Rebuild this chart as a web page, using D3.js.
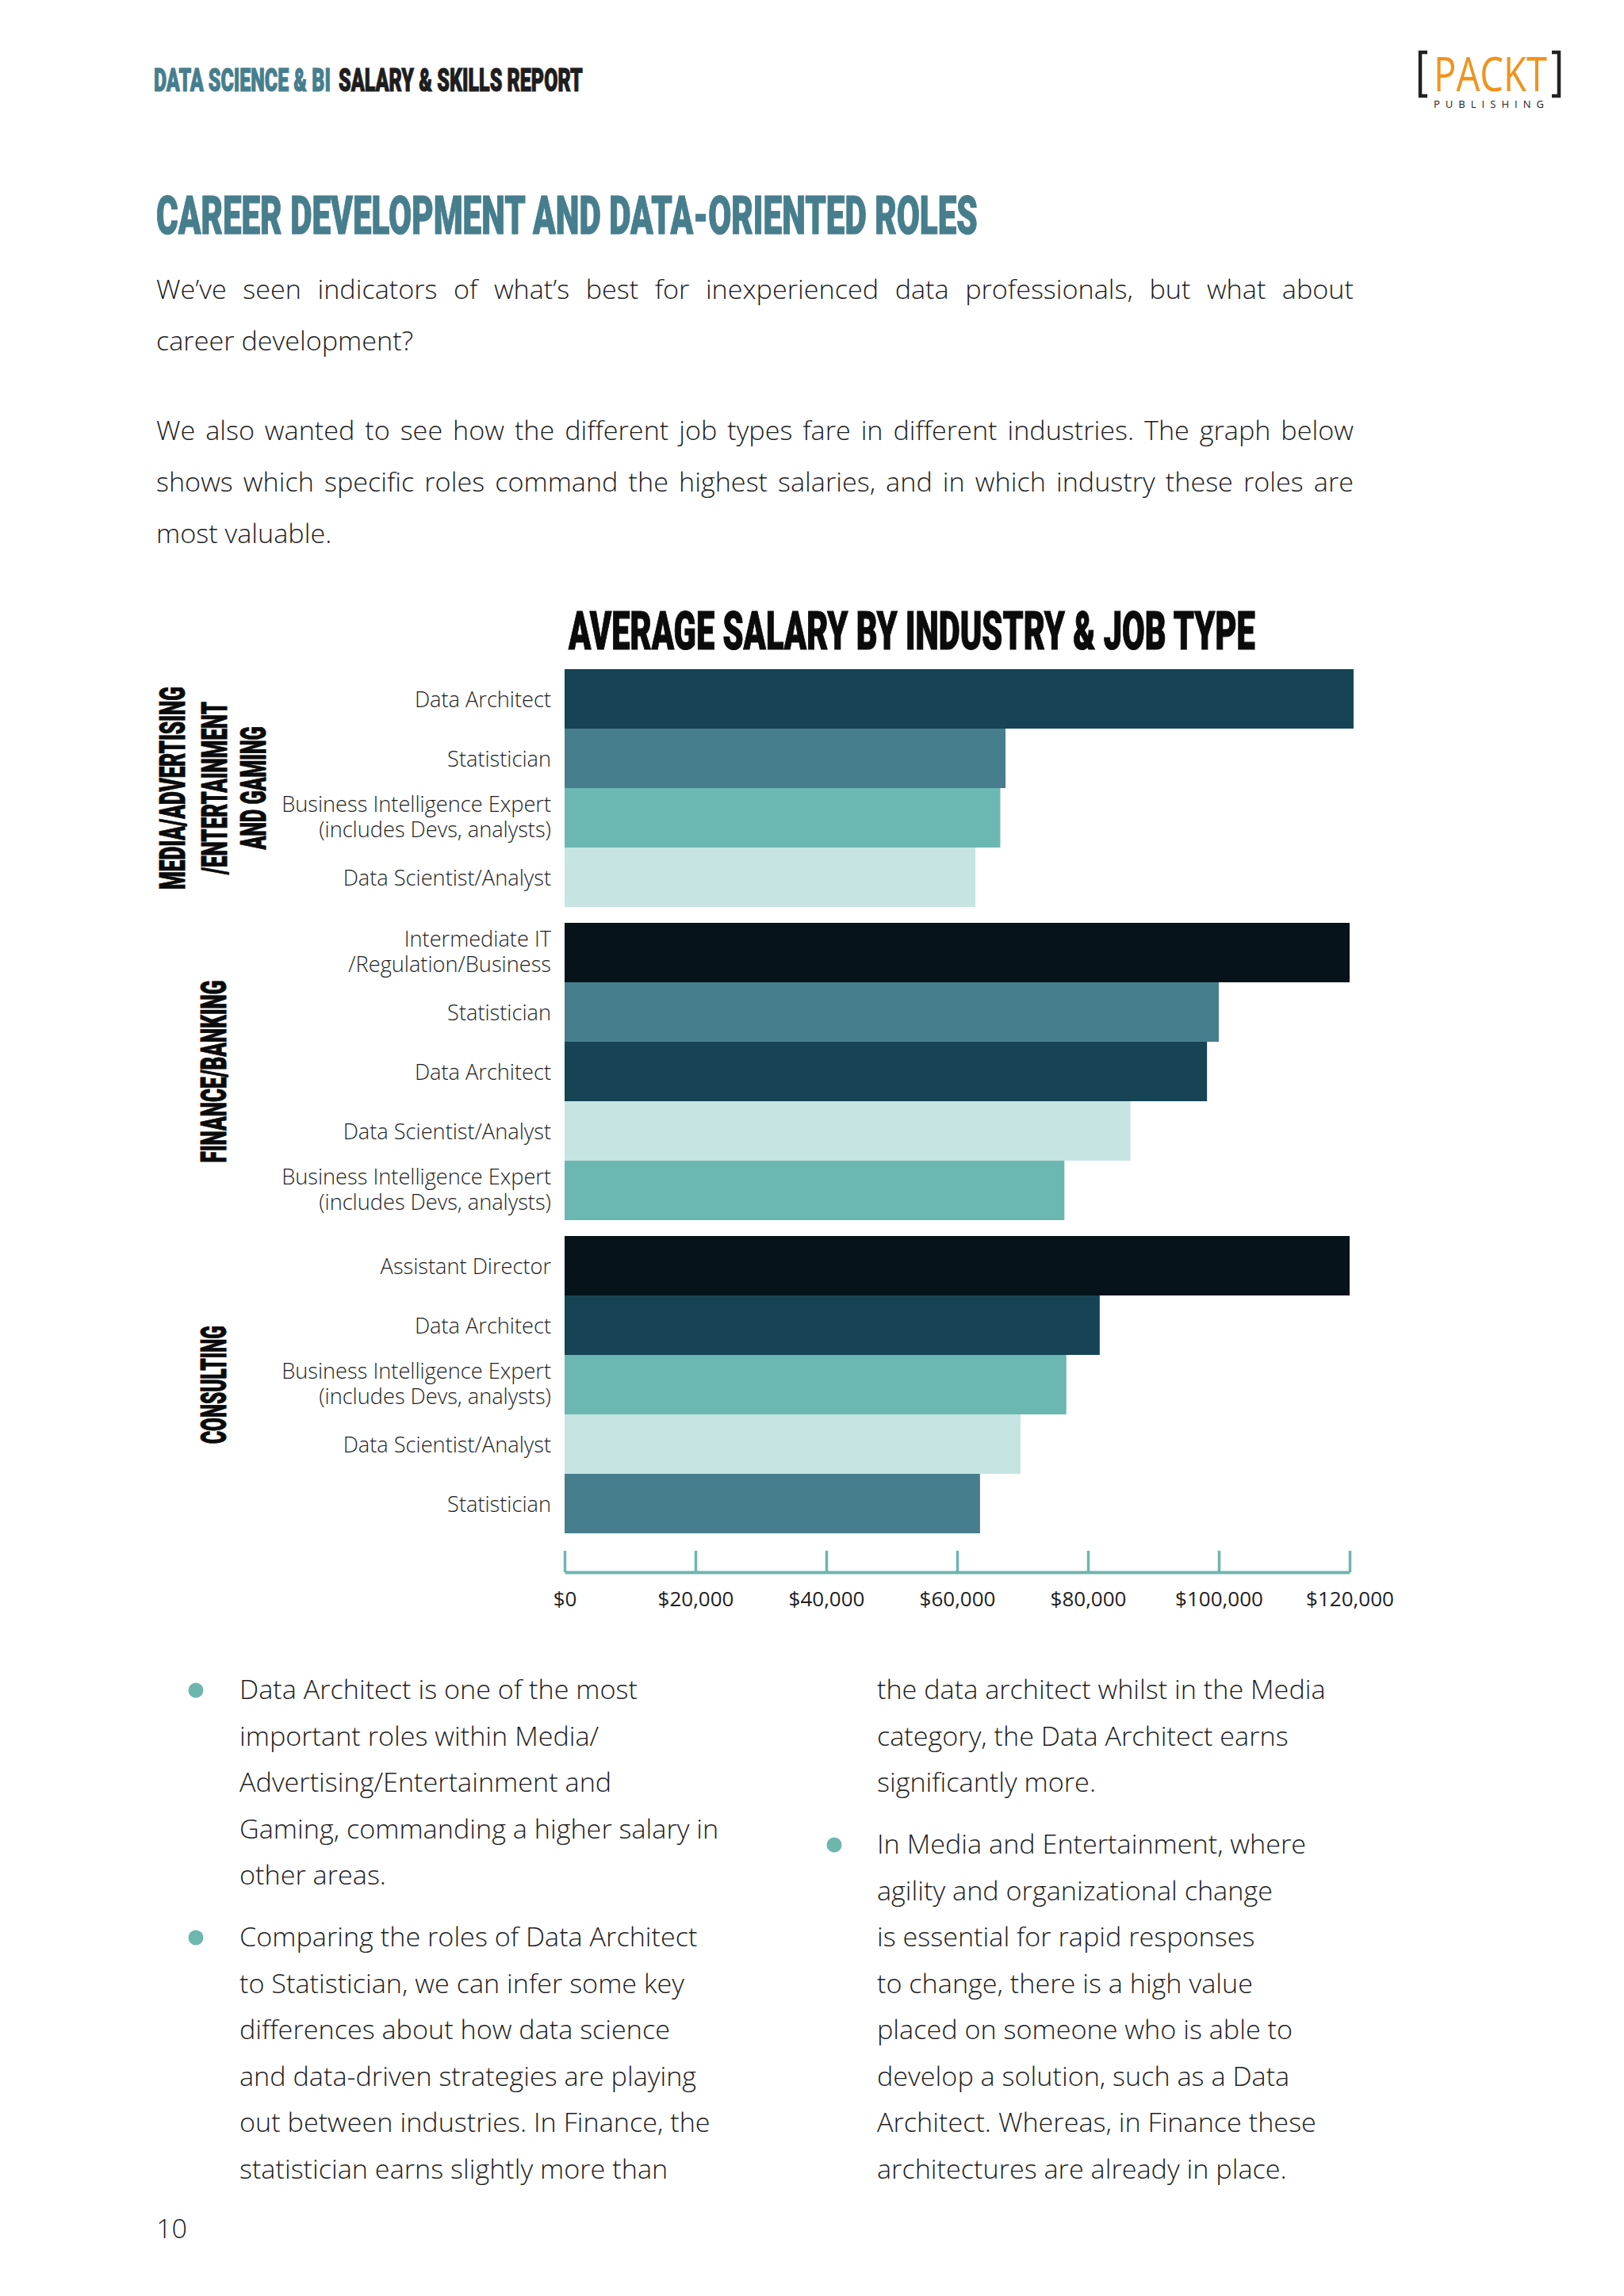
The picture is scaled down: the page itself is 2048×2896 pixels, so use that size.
<!DOCTYPE html>
<html><head><meta charset="utf-8">
<script src="https://cdn.jsdelivr.net/npm/d3@7"></script>
<style>
html,body{margin:0;padding:0;background:#fff;}
svg{display:block;}
</style></head>
<body>
<svg id="page" width="2048" height="2896"></svg>
<script>
// ---------------- DATA ----------------
const industries = ["MEDIA/ADVERTISING\n/ENTERTAINMENT\nAND GAMING", "FINANCE/BANKING", "CONSULTING"];
const mediaRoles = ["Data Architect", "Statistician", "Business Intelligence Expert\n(includes Devs, analysts)", "Data Scientist/Analyst"];
const mediaSalaries = [120600, 67400, 66600, 62800];
const financeRoles = ["Intermediate IT\n/Regulation/Business", "Statistician", "Data Architect", "Data Scientist/Analyst", "Business Intelligence Expert\n(includes Devs, analysts)"];
const financeSalaries = [120000, 100000, 98200, 86500, 76400];
const consultingRoles = ["Assistant Director", "Data Architect", "Business Intelligence Expert\n(includes Devs, analysts)", "Data Scientist/Analyst", "Statistician"];
const consultingSalaries = [120000, 81800, 76700, 69700, 63500];
const tickValues = [0, 20000, 40000, 60000, 80000, 100000, 120000];
const roleTypes = ["Data Architect", "Statistician", "Business Intelligence Expert\n(includes Devs, analysts)", "Data Scientist/Analyst", "Intermediate IT\n/Regulation/Business", "Assistant Director"];

// ---------------- TEXT ----------------
const headerParts = ["DATA SCIENCE & BI", "SALARY & SKILLS REPORT"];
const pageTitle = "CAREER DEVELOPMENT AND DATA-ORIENTED ROLES";
const chartTitle = "AVERAGE SALARY BY INDUSTRY & JOB TYPE";
const introParagraphs = [
  ["We\u2019ve seen indicators of what\u2019s best for inexperienced data professionals, but what about", "career development?"],
  ["We also wanted to see how the different job types fare in different industries. The graph below", "shows which specific roles command the highest salaries, and in which industry these roles are", "most valuable."]
];
const leftColumn = [
  {bullet: true, lines: ["Data Architect is one of the most", "important roles within Media/", "Advertising/Entertainment and", "Gaming, commanding a higher salary in", "other areas."]},
  {bullet: true, lines: ["Comparing the roles of Data Architect", "to Statistician, we can infer some key", "differences about how data science", "and data-driven strategies are playing", "out between industries. In Finance, the", "statistician earns slightly more than"]}
];
const rightColumn = [
  {bullet: false, lines: ["the data architect whilst in the Media", "category, the Data Architect earns", "significantly more."]},
  {bullet: true, lines: ["In Media and Entertainment, where", "agility and organizational change", "is essential for rapid responses", "to change, there is a high value", "placed on someone who is able to", "develop a solution, such as a Data", "Architect. Whereas, in Finance these", "architectures are already in place."]}
];
const pageNumber = "10";

// ---------------- STYLE / LAYOUT ----------------
const roleColors = ["#164455", "#467e8d", "#6bb8b2", "#c6e4e2", "#061419", "#061419"];
const TEAL = "#467e8d", AXIS = "#6db6ae", INK = "#1e1e1e", ORANGE = "#f0931d";
const HEAD_FONT = "Roboto, Inter, 'Liberation Sans', sans-serif";
const BODY_FONT = "'Open Sans', 'Noto Sans', sans-serif";

const svg = d3.select("#page");
svg.append("rect").attr("width", 2048).attr("height", 2896).attr("fill", "#ffffff");

// text squeezed horizontally by a transform so its box stays true
function squeezed(parent, txt, x, yb, opts) {
  const t = parent.append("text").attr("x", 0).attr("y", 0)
    .attr("font-family", opts.family).attr("font-weight", opts.weight).attr("font-size", opts.size)
    .attr("fill", opts.fill).attr("text-anchor", opts.anchor || "start").text(txt);
  if (opts.stroke) t.attr("stroke", opts.fill).attr("stroke-width", opts.stroke);
  const w = t.node().getComputedTextLength();
  const sx = opts.width != null ? opts.width / w : opts.factor;
  const rot = opts.rotate ? ` rotate(${opts.rotate})` : "";
  t.attr("transform", `translate(${x},${yb})${rot} scale(${sx},1)`);
  return {node: t, width: w * sx};
}
function headline(txt, x, yb, size, width, fill) {
  return squeezed(svg, txt, x, yb, {family: HEAD_FONT, weight: 900, size: size, fill: fill, stroke: 1.2, width: width});
}

// Header
headline(headerParts[0], 194, 115, 41, 223, TEAL);
headline(headerParts[1], 427, 115, 41, 308, INK);

// Logo
const logo = svg.append("g");
logo.append("path").attr("d", "M1800,66 H1791 V121 H1800").attr("fill", "none").attr("stroke", "#222").attr("stroke-width", 4.5);
logo.append("path").attr("d", "M1957,66 H1966 V121 H1957").attr("fill", "none").attr("stroke", "#222").attr("stroke-width", 4.5);
squeezed(logo, "PACKT", 1808, 115, {family: BODY_FONT, weight: 500, size: 60, fill: ORANGE, width: 143});
logo.append("text").attr("x", 1808).attr("y", 136).attr("font-family", BODY_FONT).attr("font-weight", 400)
  .attr("font-size", 13).attr("fill", "#222").attr("textLength", 139).attr("lengthAdjust", "spacing").text("PUBLISHING");

// Title
headline(pageTitle, 197, 295, 67, 1036, TEAL);

// body text helpers
const BODY_SIZE = 33;
function measure(txt, size, weight, family) {
  const t = svg.append("text").attr("font-family", family).attr("font-weight", weight).attr("font-size", size).text(txt);
  const w = t.node().getComputedTextLength(); t.remove(); return w;
}
const bodyFactor = 502 / measure("Data Architect is one of the most", BODY_SIZE, 300, BODY_FONT);
const bodyOpts = {family: BODY_FONT, weight: 300, size: BODY_SIZE, fill: INK, factor: bodyFactor};
function bodyLine(txt, x, yb) { return squeezed(svg, txt, x, yb, bodyOpts); }
function justifiedLine(txt, x0, x1, yb) {
  const words = txt.split(" ");
  const ws = words.map(w => measure(w, BODY_SIZE, 300, BODY_FONT) * bodyFactor);
  const gap = (x1 - x0 - d3.sum(ws)) / (words.length - 1);
  const g = svg.append("g");
  let x = x0;
  words.forEach((w, i) => { squeezed(g, w, x, yb, bodyOpts); x += ws[i] + gap; });
}

// intro paragraphs
const paraBaselines = [[377, 442], [555, 620, 685]];
introParagraphs.forEach((p, pi) => {
  p.forEach((line, li) => {
    if (li < p.length - 1) justifiedLine(line, 197, 1707, paraBaselines[pi][li]);
    else bodyLine(line, 197, paraBaselines[pi][li]);
  });
});

// ---------------- CHART ----------------
const groups = [
  {name: industries[0], roles: mediaRoles, values: mediaSalaries},
  {name: industries[1], roles: financeRoles, values: financeSalaries},
  {name: industries[2], roles: consultingRoles, values: consultingSalaries}
];
const GAP_UNITS = 20 / 75;
const rows = [];
let unit = 0;
groups.forEach((g, gi) => {
  if (gi > 0) unit += GAP_UNITS;
  g.start = unit;
  g.roles.forEach((r, i) => { rows.push({group: gi, role: r, value: g.values[i], u: unit}); unit += 1; });
  g.end = unit;
});

const x = d3.scaleLinear().domain([0, 120000]).range([712, 1702]);
const y = d3.scaleLinear().domain([0, unit]).range([844, 1934]);
const color = d3.scaleOrdinal().domain(roleTypes).range(roleColors);

headline(chartTitle, 717, 819, 66, 866, "#0b0b0b");

const chart = svg.append("g");
chart.selectAll("rect.bar").data(rows).join("rect").attr("class", "bar")
  .attr("x", x(0)).attr("y", d => y(d.u))
  .attr("width", d => x(d.value) - x(0))
  .attr("height", d => y(d.u + 1) - y(d.u))
  .attr("fill", d => color(d.role));

// row labels
const LABEL_SIZE = 27;
const labelFactor = 340 / measure("Business Intelligence Expert", LABEL_SIZE, 300, BODY_FONT);
rows.forEach(d => {
  const cy = (y(d.u) + y(d.u + 1)) / 2;
  const lines = d.role.split("\n");
  const offs = lines.length === 1 ? [10] : [-8, 24];
  lines.forEach((ln, i) => {
    squeezed(chart, ln, 695, cy + offs[i], {family: BODY_FONT, weight: 300, size: LABEL_SIZE, fill: INK, anchor: "end", factor: labelFactor});
  });
});

// industry labels (vertical)
const industryWidths = [[256, 218, 155], [230], [149]];
groups.forEach((g, gi) => {
  const cy = (y(g.start) + y(g.end)) / 2;
  const lines = g.name.split("\n");
  const bases = lines.length === 3 ? [233, 286, 335] : [285];
  lines.forEach((ln, i) => {
    squeezed(svg, ln, bases[i], cy, {family: HEAD_FONT, weight: 900, size: 45, fill: "#0b0b0b", stroke: 1,
      anchor: "middle", rotate: -90, width: industryWidths[gi][i]});
  });
});

// axis
const axis = d3.axisBottom(x).tickValues(tickValues).tickSizeInner(-27).tickSizeOuter(0).tickPadding(25)
  .tickFormat(d => "$" + d3.format(",")(d));
const ag = svg.append("g").attr("transform", "translate(0,1983)").call(axis);
ag.select(".domain").attr("stroke", AXIS).attr("stroke-width", 4);
ag.selectAll(".tick line").attr("stroke", AXIS).attr("stroke-width", 3.5);
ag.selectAll(".tick text").attr("font-family", BODY_FONT).attr("font-weight", 400).attr("font-size", 26).attr("fill", INK);

// ---------------- BULLETS ----------------
const LINE_STEP = 58.5, PARA_GAP = 78;
function column(blocks, textX, dotX) {
  let yb = 2143;
  blocks.forEach((b, bi) => {
    if (bi > 0) yb += PARA_GAP - LINE_STEP;
    if (b.bullet) svg.append("circle").attr("cx", dotX).attr("cy", yb - 11).attr("r", 9.5).attr("fill", AXIS);
    b.lines.forEach(ln => { bodyLine(ln, textX, yb); yb += LINE_STEP; });
  });
}
column(leftColumn, 302, 247);
column(rightColumn, 1106, 1052);

bodyLine(pageNumber, 197, 2823);
</script>
</body></html>
